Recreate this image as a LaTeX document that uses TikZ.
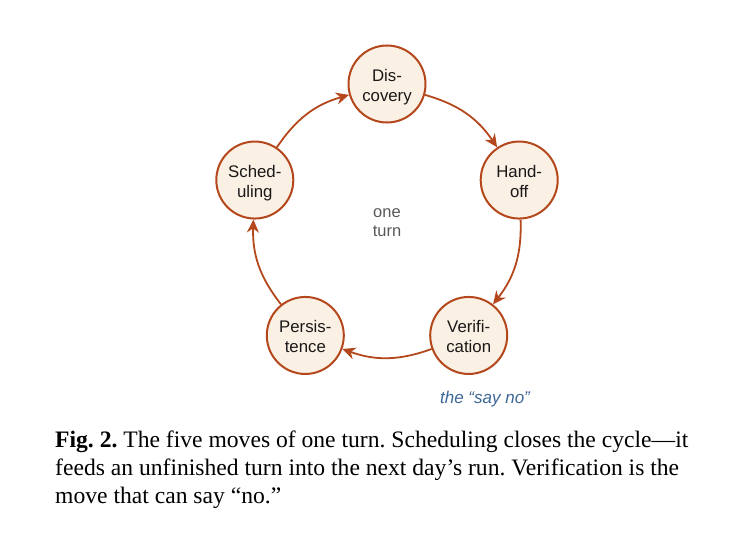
\documentclass[tikz,border=0pt]{standalone}
\usepackage{fontspec}
\setmainfont{Liberation Serif}
\newfontfamily\movefont{Liberation Sans}
\usetikzlibrary{arrows.meta, calc}

\definecolor{rust}{HTML}{B4471B}
\definecolor{cream}{HTML}{FBF0E4}
\definecolor{noteblue}{HTML}{3D6896}

% two-line move name, set a little low in its circle
\newcommand{\movename}[2]{\raisebox{-3.5pt}[\height][\depth]{\begin{tabular}{@{}c@{}}#1\\#2\end{tabular}}}

\tikzset{
	move/.style = {circle, draw = rust, fill = cream, line width = 2pt, minimum size = 77pt,
		inner sep = 0pt, text = black!90, font = \movefont\fontsize{16.8}{20}\selectfont},
	flow/.style = {rust, line width = 1.8pt, -{Stealth[length = 13pt, width = 12pt]}, bend left = 20}
}

\begin{document}
\frenchspacing
\begin{tikzpicture}[x = 1pt, y = 1pt]
	\useasboundingbox [fill = white] (0,0) rectangle (738,542);
	\coordinate (ring) at (387,319);
	\node [move] (disc) at ($(ring) + (90:139)$) {\movename{Dis-}{covery}};
	\node [move] (hand) at ($(ring) + (18:139)$) {\movename{Hand-}{off}};
	\node [move] (veri) at ($(ring) + (-54:139)$) {\movename{Verifi-}{cation}};
	\node [move] (pers) at ($(ring) + (-126:139)$) {\movename{Persis-}{tence}};
	\node [move] (sched) at ($(ring) + (162:139)$) {\movename{Sched-}{uling}};
	\node [align = center, text = black!65, font = \movefont\fontsize{16.5}{19}\selectfont] (turn) at (ring) {one\\turn};

	\draw [flow] (disc) to (hand);
	\draw [flow] (hand) to (veri);
	\draw [flow] (veri) to (pers);
	\draw [flow] (pers) to (sched);
	\draw [flow] (sched) to (disc);

	\node [text = noteblue, font = \movefont\itshape\fontsize{17}{20}\selectfont] (sayno) at (485,143) {the “say no”};

	\node [anchor = north west, inner sep = 0pt, align = left, font = \fontsize{23.6}{28}\selectfont] (caption) at (55,111)
		{\textbf{Fig. 2.} The five moves of one turn. Scheduling closes the cycle—it\\
		feeds an unfinished turn into the next day’s run. Verification is the\\
		move that can say “no.”};
\end{tikzpicture}
\end{document}
